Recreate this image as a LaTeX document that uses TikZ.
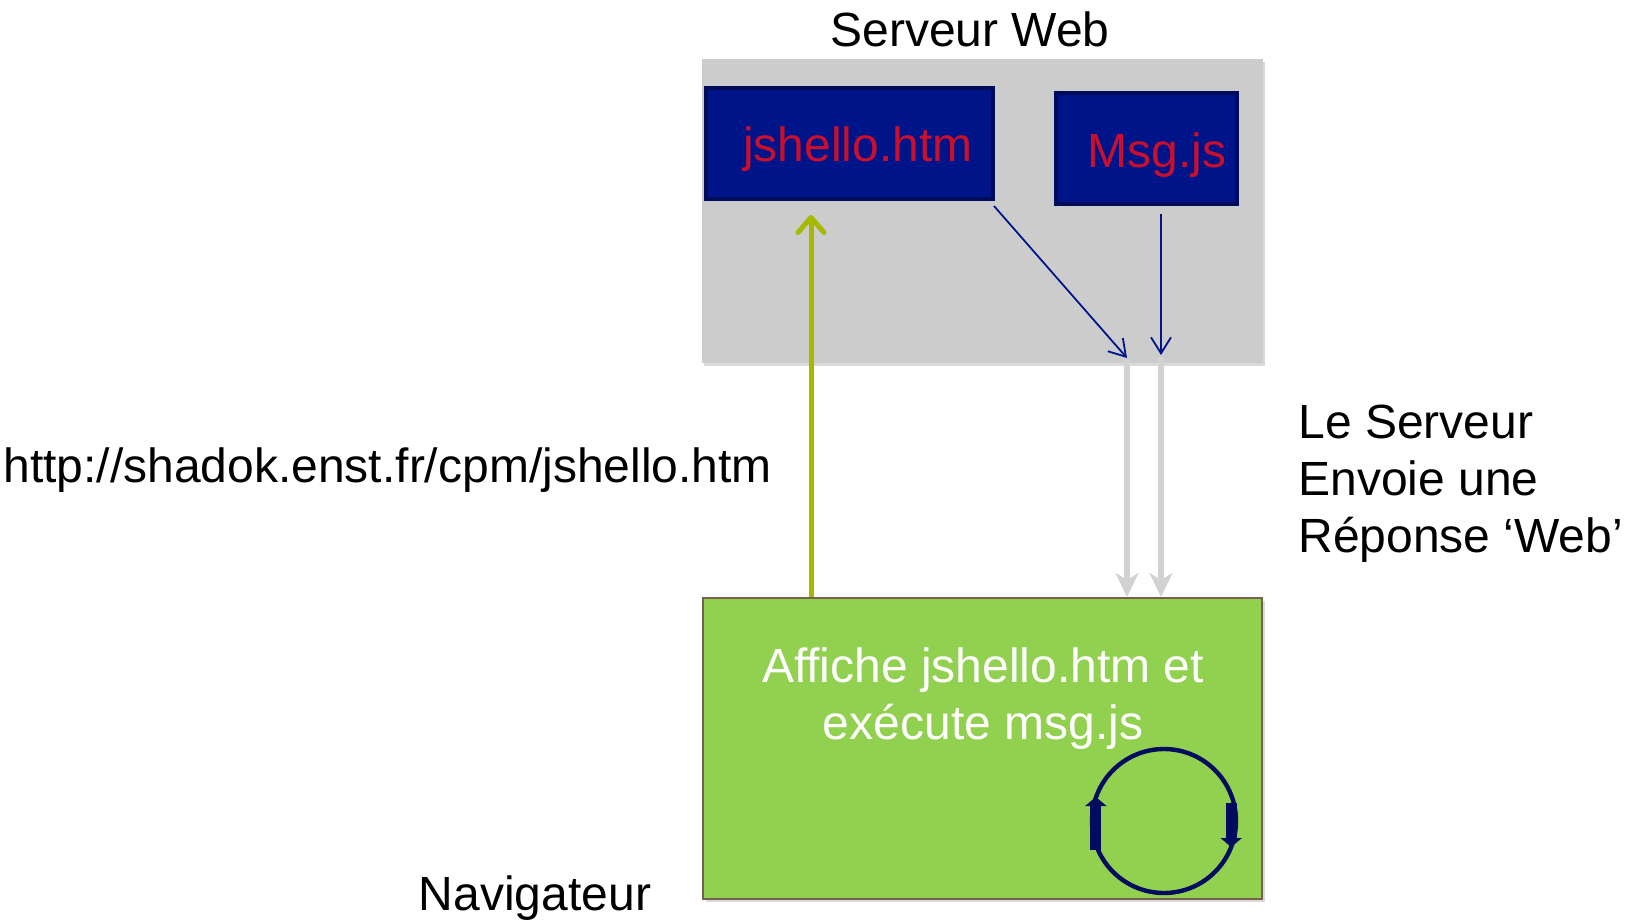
\documentclass[tikz,border=0pt]{standalone}
\usepackage{fontspec}
\setmainfont{Liberation Sans}
\usetikzlibrary{arrows.meta,shadows,calc}
\definecolor{srvgray}{RGB}{204,204,204}
\definecolor{boxblue}{RGB}{0,20,137}
\definecolor{boxborder}{RGB}{0,12,90}
\definecolor{crimson}{RGB}{200,16,46}
\definecolor{navgreen}{RGB}{146,208,80}
\definecolor{navborder}{RGB}{120,95,80}
\definecolor{reqgreen}{RGB}{168,184,0}
\definecolor{respgray}{RGB}{210,210,210}
\definecolor{loopnavy}{RGB}{0,12,96}
\begin{document}
\begin{tikzpicture}[x=0.5pt,y=-0.5pt,
  every node/.style={font=\fontsize{24pt}{28.5pt}\selectfont, inner sep=0pt},
  txt/.style={text=black},
  redtxt/.style={text=crimson},
  whitetxt/.style={text=white},
  srvbox/.style={rectangle, fill=srvgray, drop shadow={shadow xshift=1pt, shadow yshift=-1.5pt, opacity=0.3}},
  filebox/.style={rectangle, fill=boxblue, draw=boxborder, line width=2pt},
  navbox/.style={rectangle, fill=navgreen, draw=navborder, line width=1pt, drop shadow={shadow xshift=1.5pt, shadow yshift=-1.5pt, opacity=0.3}},
  loopc/.style={circle, draw=loopnavy, line width=2.2pt},
  reqarrow/.style={draw=reqgreen, line width=2.5pt, -{Straight Barb[round, length=7.5pt, width=13pt]}},
  fetch/.style={draw=boxblue, line width=0.9pt, -{Straight Barb[length=8pt, width=10pt]}},
  resparrow/.style={draw=respgray, line width=3pt, -{Stealth[length=12pt, width=11.5pt, inset=3.5pt]}},
  loopmark/.style={draw=loopnavy, line width=5.5pt, -{Triangle[length=4.5pt, width=10.5pt]}}
]
\useasboundingbox (0,0) rectangle (1626,920);

% server
\node[srvbox, minimum width=280.5pt, minimum height=152pt] (srv) at (982.5,211) {};
\node[txt, anchor=base] (srvlbl) at (970,47) {Serveur Web};
\node[filebox, minimum width=143.5pt, minimum height=55.5pt] (jsh) at (849.5,143.5) {};
\node[redtxt, anchor=base] (jshlbl) at (858,161) {jshello.htm};
\node[filebox, minimum width=90.5pt, minimum height=55.5pt] (msg) at (1146.5,148.5) {};
\node[redtxt, anchor=base] (msglbl) at (1157,167) {Msg.js};

% browser
\node[navbox, minimum width=279.5pt, minimum height=150.5pt] (nav) at (982.5,748.5) {};
\node[whitetxt, align=center, anchor=base] (navtxt) at (983,739) {Affiche jshello.htm et\\exécute msg.js};
\node[loopc, minimum size=72pt] (loop) at (1164,821) {};

% free texts
\node[txt, anchor=base west] (url) at (3,482) {http://shadok.enst.fr/cpm/jshello.htm};
\node[txt, anchor=base west, align=left] (resp) at (1298,552) {Le Serveur\\Envoie une\\Réponse ‘Web’};
\node[txt, anchor=base] (navlbl) at (535,910) {Navigateur};

% coordinates
\coordinate (reqx) at (811,0);
\coordinate (t1) at (1127,358);
\coordinate (t2) at (1161,355);

% connectors
\draw[reqarrow] (nav.north -| reqx) -- ($(jsh.south -| reqx)+(0,14)$);
\draw[resparrow] ($(t1)+(0,2)$) -- (nav.north -| t1);
\draw[resparrow] ($(t2)+(0,2)$) -- (nav.north -| t2);
\draw[fetch] ($(jsh.south east)+(-1,5)$) -- (t1);
\draw[fetch] ($(msg.south -| t2)+(0,8)$) -- (t2);

% loop marks
\draw[loopmark] ($(loop.west)+(6,29)$) -- ($(loop.west)+(6,-24)$);
\draw[loopmark] ($(loop.east)+(-7,-18)$) -- ($(loop.east)+(-7,26)$);
\end{tikzpicture}
\end{document}
